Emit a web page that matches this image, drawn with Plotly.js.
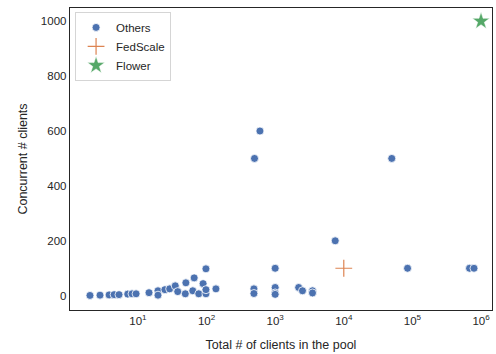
<!DOCTYPE html>
<html>
<head>
<meta charset="utf-8">
<script src="https://cdn.plot.ly/plotly-3.0.1.min.js"></script>
<style>html,body{margin:0;padding:0;background:#fff;}#chart{width:496px;height:354px;}</style>
</head>
<body>
<div id="chart"></div>
<script>
// "Others" systems: total clients in pool vs concurrent clients
const othersX = [2, 2.8, 3.8, 4.5, 5.3, 7.1, 8.2, 9.4, 14.5, 19.6, 19.6, 24.7, 29, 35, 38, 49, 50, 63, 66, 77, 89, 98, 98, 98, 137,
                 490, 490, 500, 600, 1000, 1000, 1000, 1000, 2200, 2500, 3500, 3500, 7500, 50000, 85000, 680000, 790000];
const othersY = [1, 2, 3, 4, 4, 6, 7, 7, 11, 18, 2, 22, 25, 36, 15, 7, 47, 18, 65, 7, 44, 98, 7, 22, 25,
                 25, 8, 500, 600, 100, 30, 10, 5, 30, 18, 18, 10, 200, 500, 100, 100, 100];
const fedscaleX = [10000];
const fedscaleY = [100];
const flowerX = [1000000];
const flowerY = [1000];
const xTickVals = [10, 100, 1000, 10000, 100000, 1000000];
const xTickText = ['10<sup>1</sup>', '10<sup>2</sup>', '10<sup>3</sup>', '10<sup>4</sup>', '10<sup>5</sup>', '10<sup>6</sup>'];
const yTickVals = [0, 200, 400, 600, 800, 1000];

const traces = [
  {x: othersX, y: othersY, name: 'Others', type: 'scatter', mode: 'markers',
   marker: {color: '#4C72B0', size: 8, line: {color: '#ffffff', width: 0.8}}},
  {x: fedscaleX, y: fedscaleY, name: 'FedScale', type: 'scatter', mode: 'markers',
   marker: {symbol: 'cross-thin-open', color: '#DD8452', size: 12, line: {color: '#DD8452', width: 1.2}}},
  {x: flowerX, y: flowerY, name: 'Flower', type: 'scatter', mode: 'markers',
   marker: {symbol: 'star', color: '#55A868', size: 13, line: {color: '#ffffff', width: 0.5}}}
];

const axisCommon = {
  showline: true, mirror: true, linecolor: '#262626', linewidth: 1.25,
  showgrid: false, zeroline: false, ticks: '',
  tickfont: {family: 'Liberation Sans, Arial, sans-serif', size: 11.5, color: '#262626'}
};

const layout = {
  width: 496, height: 354,
  margin: {l: 70, r: 4, t: 8, b: 44},
  paper_bgcolor: '#ffffff', plot_bgcolor: '#ffffff',
  font: {family: 'Liberation Sans, Arial, sans-serif', color: '#262626'},
  showlegend: true,
  legend: {x: 0.012, y: 0.987, xanchor: 'left', yanchor: 'top',
           bgcolor: '#ffffff', bordercolor: '#d5d5d5', borderwidth: 1,
           font: {size: 11.5, color: '#262626'}, tracegroupgap: 0},
  xaxis: Object.assign({}, axisCommon, {
    type: 'log', range: [0.01, 6.16],
    tickmode: 'array', tickvals: xTickVals, ticktext: xTickText,
    title: {text: 'Total # of clients in the pool', font: {size: 12.5, color: '#262626'}, standoff: 14}
  }),
  yaxis: Object.assign({}, axisCommon, {
    range: [-52, 1048],
    tickmode: 'array', tickvals: yTickVals,
    title: {text: 'Concurrent # clients', font: {size: 12.5, color: '#262626'}, standoff: 10}
  })
};

Plotly.newPlot('chart', traces, layout, {displayModeBar: false, staticPlot: true});
</script>
</body>
</html>
